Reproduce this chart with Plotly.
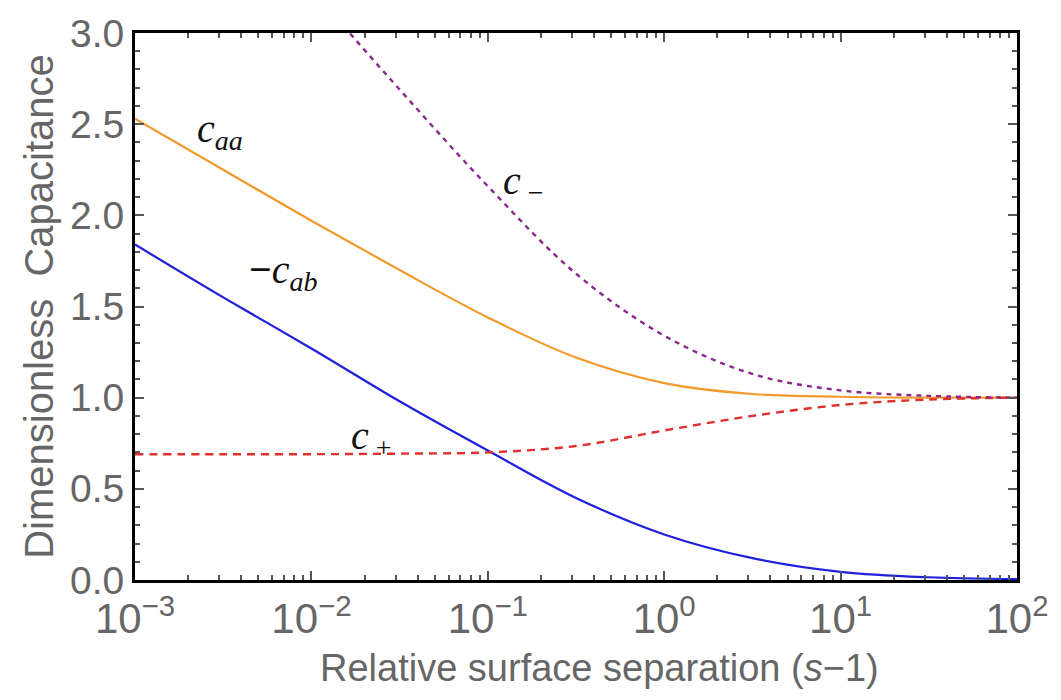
import plotly.graph_objects as go

# log10 of relative surface separation (s-1)
log_sep = [-3.0, -2.5, -2.0, -1.5, -1.0, -0.5, 0.0, 0.5, 1.0, 1.5, 2.0]
sep = [10 ** v for v in log_sep]

c_aa = [2.53, 2.25, 1.97, 1.70, 1.44, 1.22, 1.08, 1.02, 1.005, 1.0, 1.0]
minus_c_ab = [1.84, 1.55, 1.27, 0.98, 0.71, 0.45, 0.25, 0.12, 0.045, 0.015, 0.005]
c_plus = [0.69, 0.69, 0.69, 0.693, 0.70, 0.735, 0.82, 0.90, 0.96, 0.99, 1.0]
c_minus = [4.37, 3.80, 3.24, 2.69, 2.16, 1.68, 1.34, 1.13, 1.04, 1.01, 1.0]

x_tick_vals = [1e-3, 1e-2, 1e-1, 1e0, 1e1, 1e2]
x_tick_text = ["10<sup>−3</sup>", "10<sup>−2</sup>", "10<sup>−1</sup>",
               "10<sup>0</sup>", "10<sup>1</sup>", "10<sup>2</sup>"]

labels = [
    ("<i>c</i><sub><i>aa</i></sub>", -2.52, 2.46),
    ("<b>−</b><i>c</i><sub><i>ab</i></sub>", -2.16, 1.69),
    ("<i>c</i><sub> −</sub>", -0.80, 2.18),
    ("<i>c</i><sub> +</sub>", -1.66, 0.78),
]

fig = go.Figure()
fig.add_trace(go.Scatter(x=sep, y=c_aa, mode="lines", line=dict(color="#F39A2C", width=2.2, shape="spline")))
fig.add_trace(go.Scatter(x=sep, y=minus_c_ab, mode="lines", line=dict(color="#1F1FDD", width=2.2, shape="spline")))
fig.add_trace(go.Scatter(x=sep, y=c_plus, mode="lines", line=dict(color="#E0302C", width=2.4, dash="8px,6px", shape="spline")))
fig.add_trace(go.Scatter(x=sep, y=c_minus, mode="lines", line=dict(color="#8A2A8F", width=2.4, dash="5px,5px", shape="spline")))

for txt, lx, ly in labels:
    fig.add_annotation(x=lx, y=ly, xref="x", yref="y", text=txt, showarrow=False,
                       font=dict(family="Liberation Serif", size=40, color="#111111"))

# x-axis title (placed slightly right of centre, as in the original)
fig.add_annotation(x=0.5265, y=-0.161, xref="paper", yref="paper", xanchor="center", yanchor="middle",
                   text="Relative surface separation (<i>s</i>−1)", showarrow=False,
                   font=dict(family="Liberation Sans", size=38, color="#666666"))

axis_common = dict(showline=True, linecolor="black", linewidth=3, mirror="ticks",
                   ticks="inside", tickcolor="#555555", tickwidth=1.5,
                   showgrid=False, zeroline=False)

fig.update_xaxes(type="log", range=[-3, 2], tickvals=x_tick_vals, ticktext=x_tick_text, ticklen=9,
                 tickfont=dict(family="Liberation Sans", size=42, color="#666666"),
                 minor=dict(ticks="inside", ticklen=5, tickcolor="#555555", dtick="D1"),
                 **axis_common)
fig.update_yaxes(range=[0, 3], dtick=0.5, tickformat=".1f", ticklen=9,
                 tickfont=dict(family="Liberation Sans", size=39, color="#666666"),
                 minor=dict(ticks="inside", ticklen=5, tickcolor="#555555", dtick=0.1),
                 title=dict(text="Dimensionless  Capacitance",
                            font=dict(family="Liberation Sans", size=40, color="#666666"), standoff=4),
                 **axis_common)

fig.update_layout(width=1061, height=700, showlegend=False,
                  plot_bgcolor="white", paper_bgcolor="white",
                  margin=dict(l=135, r=39, t=32, b=120))

fig.write_html("out.html")
